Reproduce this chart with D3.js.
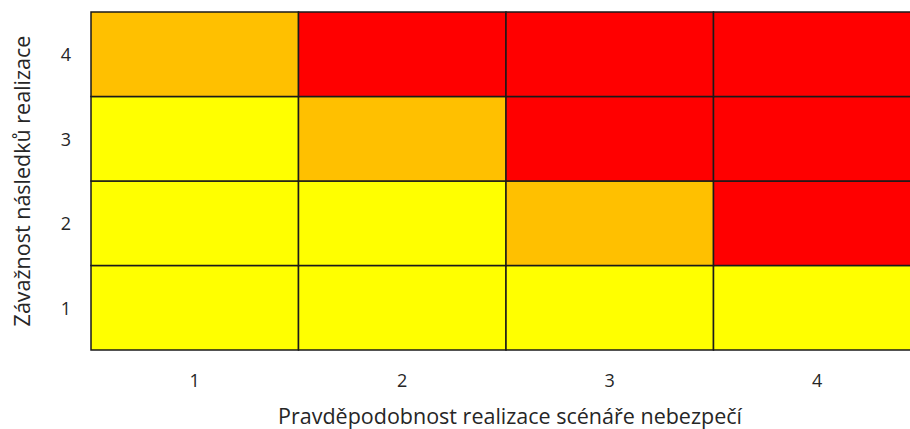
<!DOCTYPE html>
<html>
<head>
<meta charset="utf-8">
<script src="https://cdn.jsdelivr.net/npm/d3@7"></script>
<style>
  body { margin: 0; background: #fff; }
  svg { display: block; }
  text { font-family: "Open Sans", sans-serif; fill: #262626; }
</style>
</head>
<body>
<div id="chart"></div>
<script>
// x: probability of scenario, y: severity of consequences
const probability = ["1", "2", "3", "4"];
const severity = ["1", "2", "3", "4"];
// risk level per row of severity (bottom to top), one entry per probability
const riskBySeverity = {
  "1": ["low", "low", "low", "low"],
  "2": ["low", "low", "medium", "high"],
  "3": ["low", "medium", "high", "high"],
  "4": ["medium", "high", "high", "high"]
};
const levels = ["low", "medium", "high"];
const levelColors = ["#ffff00", "#ffc000", "#ff0000"];

const width = 910, height = 429;
const margin = { top: 12, right: -11, bottom: 79, left: 91 };

const svg = d3.select("#chart").append("svg")
  .attr("width", width)
  .attr("height", height);

const x = d3.scaleBand().domain(probability).range([margin.left, width - margin.right]);
const y = d3.scaleBand().domain(severity).range([height - margin.bottom, margin.top]);
const color = d3.scaleOrdinal().domain(levels).range(levelColors);

const cells = severity.flatMap(s => probability.map((p, i) => ({ p, s, level: riskBySeverity[s][i] })));

svg.append("g")
  .selectAll("rect")
  .data(cells)
  .join("rect")
  .attr("x", d => x(d.p))
  .attr("y", d => y(d.s))
  .attr("width", x.bandwidth())
  .attr("height", y.bandwidth())
  .attr("fill", d => color(d.level))
  .attr("stroke", "#1a1a1a")
  .attr("stroke-width", 1.5);

// x tick labels
svg.append("g")
  .selectAll("text")
  .data(probability)
  .join("text")
  .attr("x", d => x(d) + x.bandwidth() / 2)
  .attr("y", 380)
  .attr("text-anchor", "middle")
  .attr("dominant-baseline", "central")
  .attr("font-size", 18)
  .text(d => d);

// y tick labels
svg.append("g")
  .selectAll("text")
  .data(severity)
  .join("text")
  .attr("x", 66)
  .attr("y", d => y(d) + y.bandwidth() / 2)
  .attr("text-anchor", "middle")
  .attr("dominant-baseline", "central")
  .attr("font-size", 18)
  .text(d => d);

svg.append("text")
  .attr("x", 510)
  .attr("y", 415)
  .attr("text-anchor", "middle")
  .attr("dominant-baseline", "central")
  .attr("font-size", 21.5)
  .text("Pravděpodobnost realizace scénáře nebezpečí");

svg.append("text")
  .attr("transform", `translate(21,${(margin.top + height - margin.bottom) / 2}) rotate(-90)`)
  .attr("text-anchor", "middle")
  .attr("dominant-baseline", "central")
  .attr("font-size", 21.5)
  .text("Závažnost následků realizace");
</script>
</body>
</html>
